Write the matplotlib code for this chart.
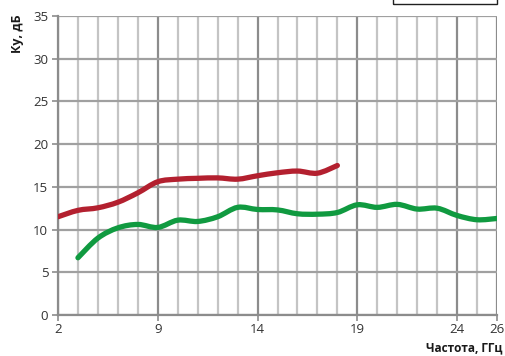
import matplotlib
matplotlib.use('Agg')
import matplotlib.pyplot as plt
from matplotlib.path import Path
from matplotlib.patches import PathPatch, Rectangle

# ---- data ----
tick_pos = [0, 5, 10, 15, 20, 22]
tick_labels = ['2', '9', '14', '19', '24', '26']
n_categories = 23

red_x = list(range(0, 15))
red_y = [11.5, 12.25, 12.55, 13.2, 14.3, 15.6, 15.9, 16.0, 16.05, 15.9, 16.3, 16.65, 16.85, 16.6, 17.5]

green_x = list(range(1, 23))
green_y = [6.7, 9.0, 10.2, 10.6, 10.25, 11.1, 10.95, 11.5, 12.6, 12.35, 12.3, 11.85, 11.8, 12.0,
           12.9, 12.6, 12.95, 12.4, 12.5, 11.65, 11.15, 11.3]

y_ticks = [0, 5, 10, 15, 20, 25, 30, 35]

red_color = '#b3202f'
green_color = '#109a40'


def smooth_path(xs, ys):
    pts = list(zip(xs, ys))
    verts = [pts[0]]
    codes = [Path.MOVETO]
    n = len(pts)
    for i in range(n - 1):
        p0 = pts[i - 1] if i > 0 else pts[i]
        p1 = pts[i]
        p2 = pts[i + 1]
        p3 = pts[i + 2] if i + 2 < n else pts[i + 1]
        c1 = (p1[0] + (p2[0] - p0[0]) / 6.0, p1[1] + (p2[1] - p0[1]) / 6.0)
        c2 = (p2[0] - (p3[0] - p1[0]) / 6.0, p2[1] - (p3[1] - p1[1]) / 6.0)
        verts += [c1, c2, p2]
        codes += [Path.CURVE4, Path.CURVE4, Path.CURVE4]
    return Path(verts, codes)


W, H = 505, 356
fig = plt.figure(figsize=(W / 100, H / 100), dpi=100)
ax = fig.add_axes([58 / W, 1 - 315 / H, (497 - 58) / W, (315 - 16) / H])

ax.set_xlim(0, n_categories - 1)
ax.set_ylim(0, 35)

# grid
for i in range(n_categories):
    major = (i % 5 == 0) or i == n_categories - 1
    ax.axvline(i, color='#8c8c8c' if major else '#c4c4c4', lw=1.6, zorder=1)
for yv in y_ticks:
    ax.axhline(yv, color='#a0a0a0', lw=1.6, zorder=1)

ax.add_patch(PathPatch(smooth_path(red_x, red_y), fill=False, edgecolor=red_color,
                       lw=3.8, capstyle='round', joinstyle='round', zorder=3))
ax.add_patch(PathPatch(smooth_path(green_x, green_y), fill=False, edgecolor=green_color,
                       lw=3.8, capstyle='round', joinstyle='round', zorder=3))

for s in ['top', 'right']:
    ax.spines[s].set_visible(False)
for s in ['left', 'bottom']:
    ax.spines[s].set_color('#8c8c8c')
    ax.spines[s].set_linewidth(1.6)

font = ['Open Sans', 'DejaVu Sans']
ax.set_yticks(y_ticks)
ax.set_yticklabels([str(v) for v in y_ticks], family=font, fontsize=9.5, color='#333333')
ax.set_xticks(tick_pos)
ax.set_xticklabels(tick_labels, family=font, fontsize=9.5, color='#333333')
ax.tick_params(axis='y', length=4, width=1.2, color='#8c8c8c', pad=3)
ax.tick_params(axis='x', length=4, width=1.2, color='#8c8c8c', pad=2)

fig.text(18 / W, 1 - 14 / H, 'Ку, дБ', rotation=90, ha='center', va='top',
         family=font, fontsize=9, fontweight='bold', color='#1a1a1a')
fig.text(502 / W, 1 - 351 / H, 'Частота, ГГц', ha='right', va='baseline',
         family=font, fontsize=8.5, fontweight='bold', color='#1a1a1a')

# cropped legend box at top right
fig.patches.append(Rectangle((393 / W, 1 - 4 / H), (497 - 393) / W, 10 / H,
                             transform=fig.transFigure, fill=False, edgecolor='#202020', lw=1.0))

fig.savefig('out.png', dpi=100)
